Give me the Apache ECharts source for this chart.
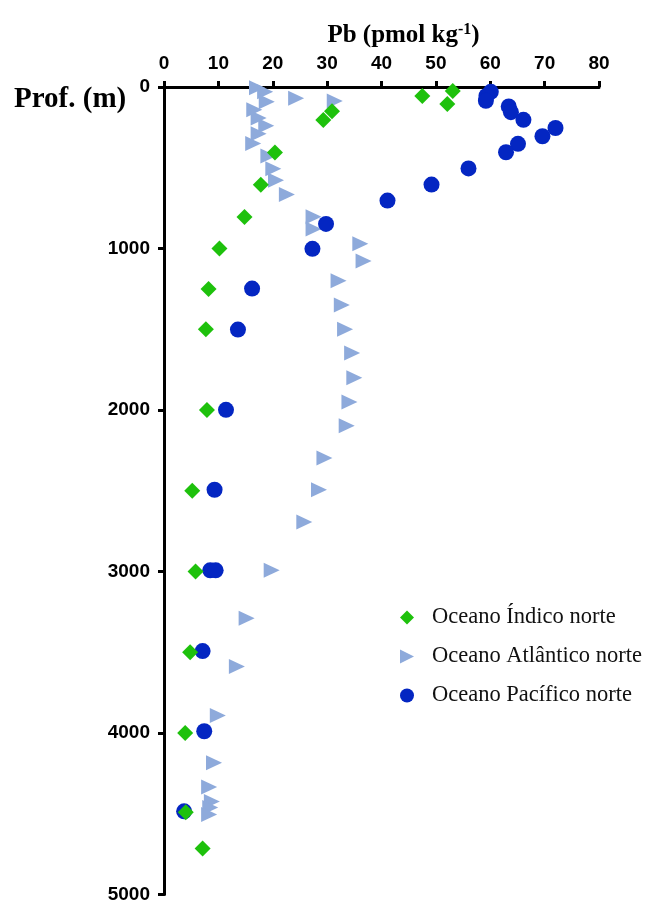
<!DOCTYPE html>
<html>
<head>
<meta charset="utf-8">
<script src="https://cdn.jsdelivr.net/npm/echarts@6/dist/echarts.min.js"></script>
<style>html,body{margin:0;padding:0;background:#fff}#c{width:652px;height:904px}</style>
</head>
<body>
<div id="c"></div>
<script>
// Tick labels
var xTicks = [0, 10, 20, 30, 40, 50, 60, 70, 80];
var yTicks = [0, 1000, 2000, 3000, 4000, 5000];

// Oceano Índico norte: Pb (pmol/kg) and depth (m)
var indicoPb    = [53.1, 47.5, 52.1, 30.9, 29.3, 20.4, 17.8, 14.8, 10.2, 8.2, 7.7, 7.9, 5.2, 5.8, 4.8, 3.9, 4.0, 7.1];
var indicoDepth = [25, 55, 105, 150, 205, 405, 605, 805, 1000, 1250, 1500, 2000, 2500, 3000, 3500, 4000, 4490, 4715];

// Oceano Atlântico norte
var atlanticoPb    = [17.1, 18.6, 24.3, 31.4, 18.9, 16.6, 17.4, 18.8, 17.4, 16.4, 19.2, 20.1, 20.6, 22.6, 27.5, 27.5, 36.1, 36.7, 32.1, 32.7, 33.3, 34.6, 35.0, 34.1, 33.6, 29.5, 28.5, 25.8, 19.8, 15.2, 13.4, 9.9, 9.2, 8.3, 8.8, 8.5, 8.3];
var atlanticoDepth = [5, 30, 70, 86, 92, 141, 192, 240, 289, 350, 428, 506, 578, 666, 803, 879, 971, 1077, 1200, 1350, 1500, 1647, 1801, 1950, 2098, 2297, 2494, 2694, 2993, 3290, 3588, 3891, 4184, 4335, 4424, 4462, 4505];

// Oceano Pacífico norte
var pacificoPb    = [60.1, 59.3, 59.2, 63.4, 63.8, 66.1, 72.0, 69.6, 65.1, 62.9, 56.0, 49.2, 41.1, 29.8, 27.3, 16.2, 13.6, 11.4, 9.3, 8.5, 9.5, 7.1, 7.4, 3.7];
var pacificoDepth = [30, 55, 85, 120, 156, 203, 254, 305, 352, 404, 504, 604, 703, 848, 1002, 1248, 1502, 1999, 2494, 2993, 2993, 3493, 3989, 4485];

var seriesNames = ['Oceano Índico norte', 'Oceano Atlântico norte', 'Oceano Pacífico norte'];

function pairs(xs, ys) { return xs.map(function (v, i) { return [v, ys[i]]; }); }

var chart = echarts.init(document.getElementById('c'), null, {renderer: 'canvas'});
var axisFont = 'Liberation Sans, Arial, sans-serif';
var serif = 'Liberation Serif, Times New Roman, serif';
var rightTriangle = 'path://M0,0 L10,5 L0,10 Z';

chart.setOption({
  animation: false,
  backgroundColor: '#ffffff',
  title: {
    text: 'Prof. (m)',
    left: 9, top: 80,
    textStyle: {fontFamily: serif, fontWeight: 'bold', fontSize: 29, color: '#000'}
  },
  grid: {left: 164, top: 87, right: 53, bottom: 7, containLabel: false},
  legend: {
    data: [
      {name: seriesNames[0], icon: 'diamond'},
      {name: seriesNames[1], icon: rightTriangle},
      {name: seriesNames[2], icon: 'circle'}
    ],
    orient: 'vertical',
    left: 395, top: 601,
    itemWidth: 14, itemHeight: 14, itemGap: 16,
    textStyle: {fontFamily: serif, fontSize: 22.5, color: '#111', padding: [0, 0, 0, 13]}
  },
  xAxis: {
    type: 'value', position: 'top',
    min: 0, max: 80, interval: 10,
    name: 'Pb (pmol kg{s|-1})',
    nameLocation: 'middle', nameGap: 38,
    nameTextStyle: {
      fontFamily: serif, fontWeight: 'bold', fontSize: 25, color: '#000', padding: [0, 0, 0, 44], lineHeight: 27,
      rich: {s: {fontFamily: serif, fontWeight: 'bold', fontSize: 16, verticalAlign: 'top', lineHeight: 16, color: '#000'}}
    },
    axisLine: {show: true, onZero: false, lineStyle: {color: '#000', width: 3}},
    axisTick: {show: true, inside: false, length: 6, lineStyle: {color: '#000', width: 3}},
    axisLabel: {fontFamily: axisFont, fontWeight: 'bold', fontSize: 19, color: '#000', margin: 14,
      formatter: function (v) { return xTicks.indexOf(v) >= 0 ? String(v) : ''; }},
    splitLine: {show: false}
  },
  yAxis: {
    type: 'value', inverse: true,
    min: 0, max: 5000, interval: 1000,
    axisLine: {show: true, onZero: false, lineStyle: {color: '#000', width: 3}},
    axisTick: {show: true, inside: false, length: 6, lineStyle: {color: '#000', width: 3}},
    axisLabel: {fontFamily: axisFont, fontWeight: 'bold', fontSize: 19, color: '#000', margin: 14,
      formatter: function (v) { return yTicks.indexOf(v) >= 0 ? String(v) : ''; }},
    splitLine: {show: false}
  },
  series: [
    {
      name: seriesNames[1], type: 'scatter', z: 2,
      symbol: 'triangle', symbolRotate: -90, symbolSize: [15, 16],
      itemStyle: {color: '#8EAADB', opacity: 1},
      data: pairs(atlanticoPb, atlanticoDepth)
    },
    {
      name: seriesNames[2], type: 'scatter', z: 3,
      symbol: 'circle', symbolSize: 16,
      itemStyle: {color: '#0426C2', opacity: 1},
      data: pairs(pacificoPb, pacificoDepth)
    },
    {
      name: seriesNames[0], type: 'scatter', z: 4,
      symbol: 'diamond', symbolSize: 16,
      itemStyle: {color: '#1EC10C', opacity: 1},
      data: pairs(indicoPb, indicoDepth)
    }
  ]
});
</script>
</body>
</html>
